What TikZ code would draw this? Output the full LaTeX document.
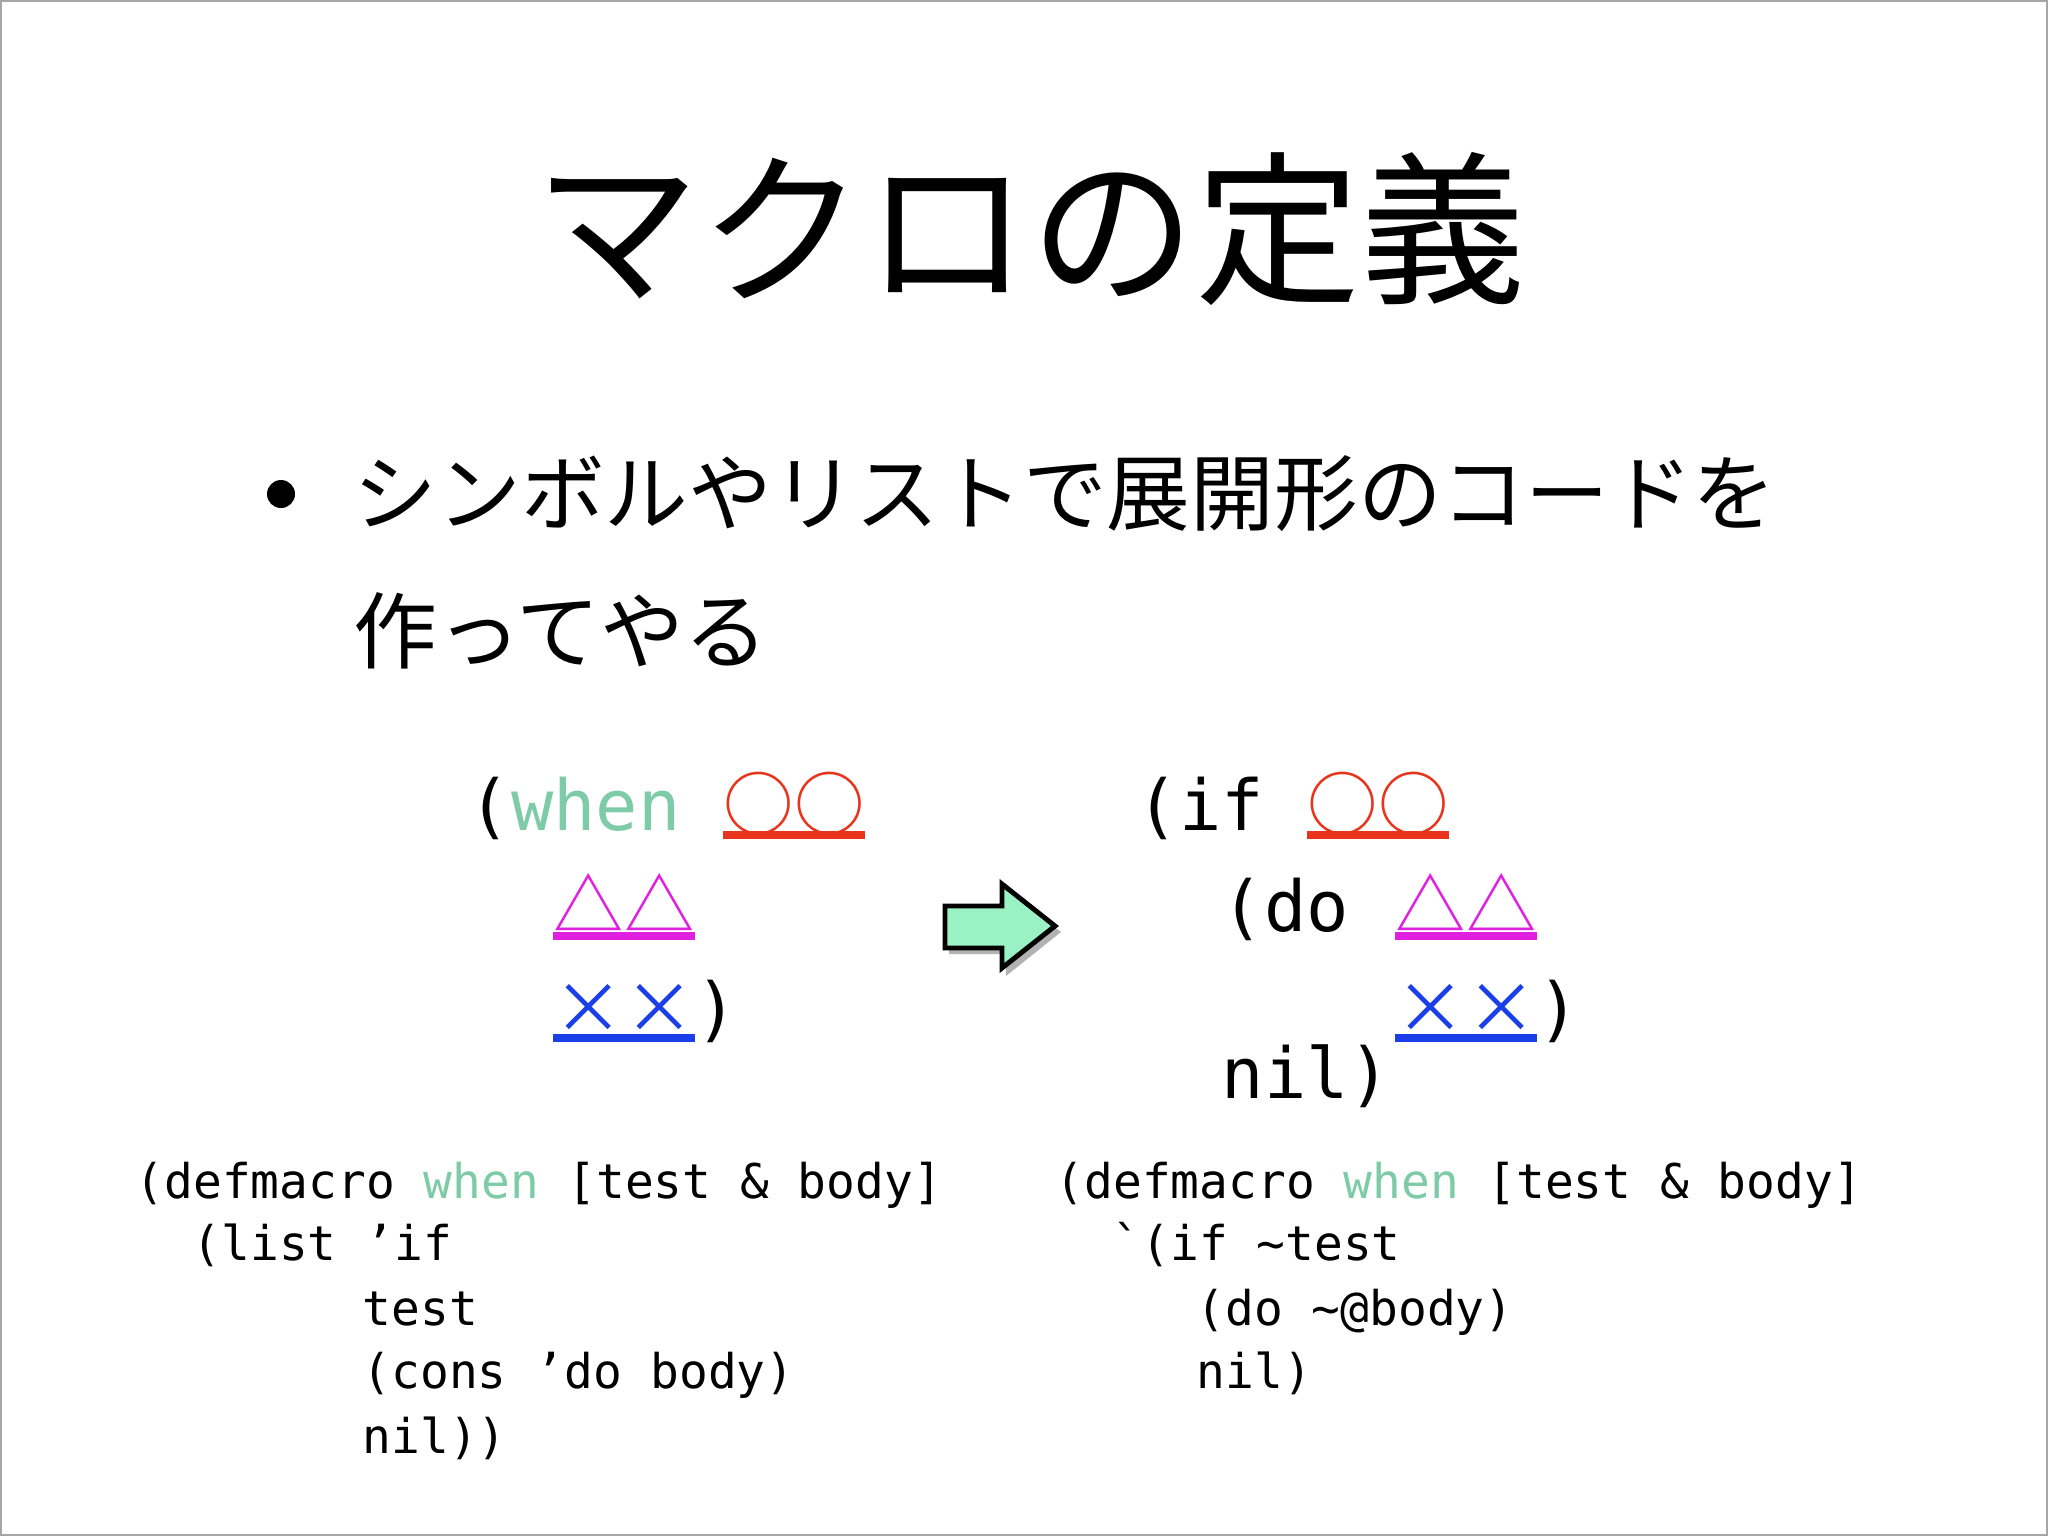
\documentclass[tikz,border=0pt]{standalone}
\usepackage{fontspec}
\setmainfont{DejaVu Sans}
\newfontfamily\cjk{Noto Sans CJK JP}
\newfontfamily\mono{DejaVu Sans Mono}
\definecolor{wgreen}{HTML}{7ECBA8}
\definecolor{cred}{HTML}{E8341C}
\definecolor{cmag}{HTML}{E020E0}
\definecolor{cblue}{HTML}{1A3EE8}
\definecolor{agreen}{HTML}{9AF2C4}
\begin{document}
\begin{tikzpicture}[x=0.01cm,y=-0.01cm,
  big/.style={inner sep=0,anchor=base west,font=\mono\fontsize{20}{24}\selectfont},
  sym/.style={inner sep=0,anchor=base west,font=\cjk\fontsize{20}{24}\selectfont},
  small/.style={inner sep=0,anchor=base west,font=\mono\fontsize{13.6}{16}\selectfont},
  ul/.style={line width=2.2pt}]
\useasboundingbox (0,0) rectangle (2048,1536);
\draw[gray!70,line width=0.8pt] (1,1) rectangle (2047,1535);
\node[font=\cjk\fontsize{47}{52}\selectfont] (title) at (1030,229) {マクロの定義};
\fill (281,494) circle (14);
\node[inner sep=0,anchor=west,font=\cjk\fontsize{23.8}{28}\selectfont] (b1) at (353,494) {シンボルやリストで展開形のコードを};
\node[inner sep=0,anchor=west,font=\cjk\fontsize{23.8}{28}\selectfont] (b2) at (353,631) {作ってやる};
% left code
\node[big] (l1) at (468,830) {(\textcolor{wgreen}{when}};
\node[sym,text=cred] (s1) at (723,830) {○○};
\node[sym,text=cmag] (s2) at (553,931) {△△};
\node[sym,text=cblue] (s3) at (553,1033) {××};
\node[big] (l3) at (s3.base east) {)};
\draw[ul,cred] ([yshift=-1.5pt]s1.base west) -- ([yshift=-1.5pt]s1.base east);
\draw[ul,cmag] ([yshift=-1.5pt]s2.base west) -- ([yshift=-1.5pt]s2.base east);
\draw[ul,cblue] ([yshift=-1.5pt]s3.base west) -- ([yshift=-1.5pt]s3.base east);
% arrow
\fill[gray!60] (949,912) -- (1006,912) -- (1006,890) -- (1061,932) -- (1006,976) -- (1006,954) -- (949,954) -- cycle;
\filldraw[fill=agreen,draw=black,line width=1.4pt] (945,906) -- (1002,906) -- (1002,884) -- (1055,926) -- (1002,968) -- (1002,948) -- (945,948) -- cycle;
% right code
\node[big] (r1) at (1136,830) {(if};
\node[sym,text=cred] (t1) at (1307,830) {○○};
\node[big] (r2) at (1221,931) {(do};
\node[sym,text=cmag] (t2) at (1395,931) {△△};
\node[sym,text=cblue] (t3) at (1395,1033) {××};
\node[big] (r3) at (t3.base east) {)};
\node[big] (r4) at (1221,1098) {nil)};
\draw[ul,cred] ([yshift=-1.5pt]t1.base west) -- ([yshift=-1.5pt]t1.base east);
\draw[ul,cmag] ([yshift=-1.5pt]t2.base west) -- ([yshift=-1.5pt]t2.base east);
\draw[ul,cblue] ([yshift=-1.5pt]t3.base west) -- ([yshift=-1.5pt]t3.base east);
% lower code
\node[small] (c1) at (135,1198) {(defmacro \textcolor{wgreen}{when} [test \& body]};
\node[small] (c2) at (192,1260) {(list ’if};
\node[small] (c3) at (362,1325) {test};
\node[small] (c4) at (362,1388) {(cons ’do body)};
\node[small] (c5) at (362,1453) {nil))};
\node[small] (d1) at (1055,1198) {(defmacro \textcolor{wgreen}{when} [test \& body]};
\node[small] (d2) at (1112,1260) {`(if \char`~test};
\node[small] (d3) at (1196,1325) {(do \char`~@body)};
\node[small] (d4) at (1196,1388) {nil)};
\end{tikzpicture}
\end{document}
